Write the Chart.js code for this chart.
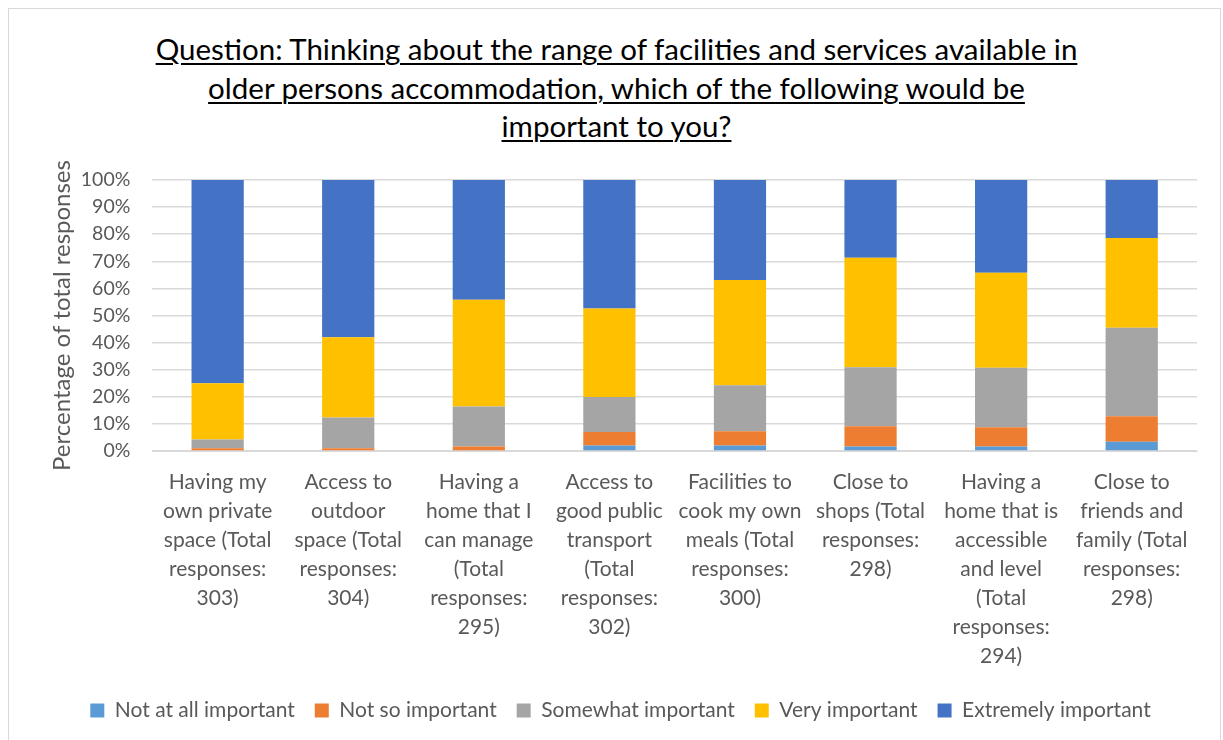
<!DOCTYPE html>
<html>
<head>
<meta charset="utf-8">
<script src="https://cdn.jsdelivr.net/npm/chart.js@4.4.1/dist/chart.umd.min.js"></script>
<style>
  body { margin: 0; background: #fff; }
  #wrap { position: relative; width: 1223px; height: 740px; }
  #frame { position: absolute; left: 8px; top: 8px; width: 1213px; height: 740px; border: 1px solid #d9d9d9; box-sizing: border-box; }
  #title {
    position: absolute; left: 0; top: 30px; width: 1233px; text-align: center;
    font-family: Lato, "Open Sans", sans-serif; font-size: 29.5px; line-height: 38.5px;
    color: #000; text-decoration: underline; text-underline-offset: 3px; text-decoration-thickness: 1.5px;
  }
  #chart { position: absolute; left: 0; top: 0; }
</style>
</head>
<body>
<div id="wrap">
  <div id="frame"></div>
  <div id="title">Question: Thinking about the range of facilities and services available in<br>older persons accommodation, which of the following would be<br>important to you?</div>
  <canvas id="chart" width="1223" height="740"></canvas>
</div>
<script>
var categories = [
  ["Having my", "own private", "space (Total", "responses:", "303)"],
  ["Access to", "outdoor", "space (Total", "responses:", "304)"],
  ["Having a", "home that I", "can manage", "(Total", "responses:", "295)"],
  ["Access to", "good public", "transport", "(Total", "responses:", "302)"],
  ["Facilities to", "cook my own", "meals (Total", "responses:", "300)"],
  ["Close to", "shops (Total", "responses:", "298)"],
  ["Having a", "home that is", "accessible", "and level", "(Total", "responses:", "294)"],
  ["Close to", "friends and", "family (Total", "responses:", "298)"]
];

var notAtAll    = [0.3, 0.3, 0.3, 2.0, 2.0, 1.7, 1.7, 3.4];
var notSo       = [0.7, 0.7, 1.4, 5.0, 5.3, 7.4, 7.1, 9.4];
var somewhat    = [3.2, 11.4, 14.7, 12.9, 17.0, 21.8, 21.9, 32.7];
var very        = [20.8, 29.6, 39.4, 32.7, 38.8, 40.4, 35.1, 33.1];
var extremely   = [75.0, 58.0, 44.2, 47.4, 36.9, 28.7, 34.2, 21.4];

var seriesNames = ["Not at all important", "Not so important", "Somewhat important", "Very important", "Extremely important"];
var colors = ["#5B9BD5", "#ED7D31", "#A5A5A5", "#FFC000", "#4472C4"];
var values = [notAtAll, notSo, somewhat, very, extremely];

var font = "Lato, 'Open Sans', sans-serif";

var chart = new Chart('chart', {
  type: 'bar',
  data: {
    labels: categories,
    datasets: values.map(function (v, i) {
      return {
        label: seriesNames[i],
        data: v,
        backgroundColor: colors[i],
        borderWidth: 0,
        barPercentage: 0.4,
        categoryPercentage: 1
      };
    })
  },
  options: {
    responsive: false,
    animation: false,
    layout: { padding: { top: 180, left: 44, right: 26, bottom: 9 } },
    plugins: {
      title: { display: false },
      tooltip: { enabled: false },
      legend: {
        position: 'bottom',
        labels: {
          color: '#595959',
          font: { family: font, size: 21 },
          boxWidth: 14, boxHeight: 14,
          padding: 20
        }
      }
    },
    scales: {
      x: {
        stacked: true,
        grid: { display: false },
        border: { color: '#d9d9d9' },
        ticks: { color: '#595959', font: { family: font, size: 21, lineHeight: '29px' }, maxRotation: 0, autoSkip: false, padding: 9 }
      },
      y: {
        stacked: true,
        min: 0, max: 100,
        afterFit: function (axis) { axis.width -= 20; },
        grid: { color: '#d9d9d9', lineWidth: 1.5, drawTicks: false },
        border: { display: false },
        ticks: {
          stepSize: 10, autoSkip: false, color: '#595959', padding: 22,
          font: { family: font, size: 19.5 },
          callback: function (v) { return v + '%'; }
        },
        title: {
          display: true, text: 'Percentage of total responses',
          color: '#595959', font: { family: font, size: 24 }, padding: { bottom: 2 }
        }
      }
    }
  }
});
</script>
</body>
</html>
